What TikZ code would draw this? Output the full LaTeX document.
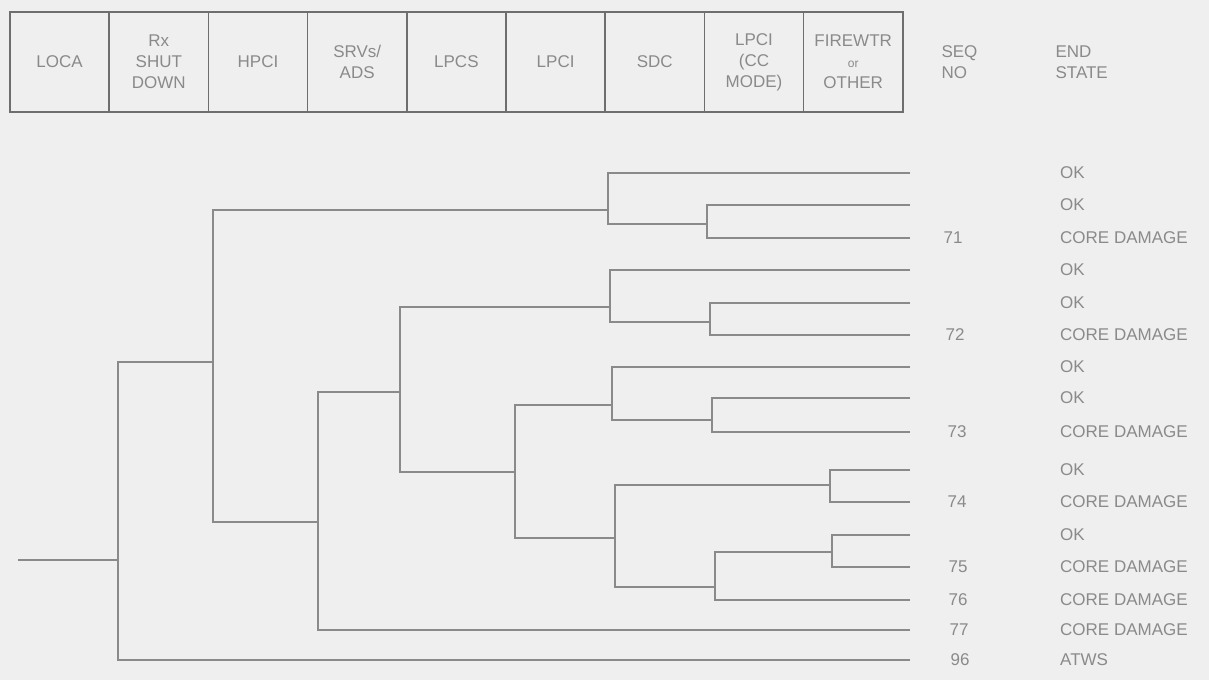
\documentclass[tikz,border=0pt]{standalone}
\usepackage{fontspec}
\setmainfont{Liberation Sans}
\usetikzlibrary{positioning}
\definecolor{paper}{HTML}{EFEFEF}
\definecolor{ink}{HTML}{6E6E6E}
\definecolor{muted}{HTML}{8A8A8A}

\begin{document}
\begin{tikzpicture}[
  x=1pt,y=-1pt,
  every node/.style={font=\fontsize{17}{21}\selectfont,text=muted},
  cell/.style={draw=ink,line width=1.6pt,minimum width=99.2pt,minimum height=100pt,inner sep=0pt,outer sep=0pt,align=center},
  line/.style={line width=1.4pt,color=muted},
  endst/.style={anchor=west,inner sep=0pt},
  seqno/.style={inner sep=0pt}
]
\fill[paper] (0,0) rectangle (1209,680);
\useasboundingbox (0,0) rectangle (1209,680);
% event headings
\node[cell] (loca) at (59.6,62) {LOCA};
\node[cell,right=0pt of loca] (rx) {Rx\\SHUT\\DOWN};
\node[cell,right=0pt of rx] (hpci) {HPCI};
\node[cell,right=0pt of hpci] (srv) {SRVs/\\ADS};
\node[cell,right=0pt of srv] (lpcs) {LPCS};
\node[cell,right=0pt of lpcs] (lpci) {LPCI};
\node[cell,right=0pt of lpci] (sdc) {SDC};
\node[cell,right=0pt of sdc] (lpcicc) {LPCI\\(CC\\MODE)};
\node[cell,right=0pt of lpcicc] (fire) {FIREWTR\\{\fontsize{12}{14}\selectfont or}\\OTHER};
\node[anchor=west,align=left] (seq) at (938,62) {SEQ\\NO};
\node[anchor=west,align=left] (state) at (1052,62) {END\\STATE};

% sequence ends and end states
\foreach \y/\s [count=\i] in {173/OK,205/OK,238/CORE DAMAGE,270/OK,303/OK,335/CORE DAMAGE,
    367/OK,398/OK,432/CORE DAMAGE,470/OK,502/CORE DAMAGE,535/OK,567/CORE DAMAGE,
    600/CORE DAMAGE,630/CORE DAMAGE,660/ATWS}
  {\coordinate (e\i) at (910,\y);
   \node[endst] (st\i) at (1060,\y) {\s};}

% sequence numbers
\node[seqno] (n71) at (953,238) {71};
\node[seqno] (n72) at (955,335) {72};
\node[seqno] (n73) at (957,432) {73};
\node[seqno] (n74) at (957,502) {74};
\node[seqno] (n75) at (958,567) {75};
\node[seqno] (n76) at (958,600) {76};
\node[seqno] (n77) at (959,630) {77};
\node[seqno] (n96) at (960,660) {96};

% branch points
\coordinate (init) at (18,560);
\coordinate (f0) at (118,560);
\coordinate (frx) at (213,362);
\coordinate (fsrv) at (318,522);
\coordinate (flpcs) at (400,392);
\coordinate (flpci) at (515,472);
\coordinate (fa) at (608,210);
\coordinate (fa2) at (707,224);
\coordinate (fb) at (610,307);
\coordinate (fb2) at (710,322);
\coordinate (fc) at (612,405);
\coordinate (fc2) at (712,420);
\coordinate (fd) at (615,538);
\coordinate (fd1) at (830,485);
\coordinate (fd2) at (715,587);
\coordinate (fd3) at (832,552);

\draw[line] (init) -- (f0);
\draw[line] (f0) |- (frx);
\draw[line] (f0) |- (e16);
\draw[line] (frx) |- (fa);
\draw[line] (frx) |- (fsrv);
\draw[line] (fsrv) |- (flpcs);
\draw[line] (fsrv) |- (e15);
\draw[line] (flpcs) |- (fb);
\draw[line] (flpcs) |- (flpci);
\draw[line] (flpci) |- (fc);
\draw[line] (flpci) |- (fd);
\draw[line] (fa) |- (e1);
\draw[line] (fa) |- (fa2);
\draw[line] (fa2) |- (e2);
\draw[line] (fa2) |- (e3);
\draw[line] (fb) |- (e4);
\draw[line] (fb) |- (fb2);
\draw[line] (fb2) |- (e5);
\draw[line] (fb2) |- (e6);
\draw[line] (fc) |- (e7);
\draw[line] (fc) |- (fc2);
\draw[line] (fc2) |- (e8);
\draw[line] (fc2) |- (e9);
\draw[line] (fd) |- (fd1);
\draw[line] (fd) |- (fd2);
\draw[line] (fd1) |- (e10);
\draw[line] (fd1) |- (e11);
\draw[line] (fd2) |- (fd3);
\draw[line] (fd2) |- (e14);
\draw[line] (fd3) |- (e12);
\draw[line] (fd3) |- (e13);
\end{tikzpicture}
\end{document}
